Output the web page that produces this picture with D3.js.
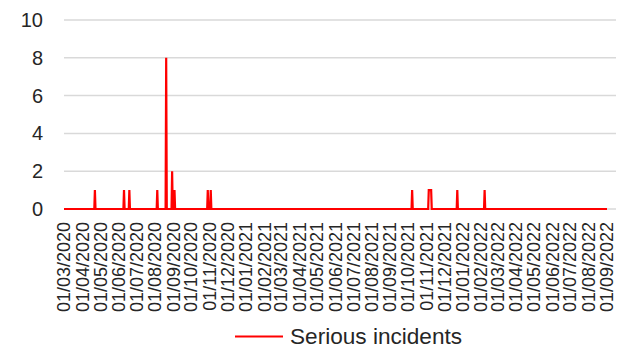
<!DOCTYPE html>
<html>
<head>
<meta charset="utf-8">
<script src="https://cdn.jsdelivr.net/npm/d3@7"></script>
<style>
  html, body { margin: 0; padding: 0; background: #fff; }
  svg { display: block; font-family: "Liberation Sans", Arial, sans-serif; }
</style>
</head>
<body>
<svg id="chart" width="617" height="349"></svg>
<script>
// ---- data ----
const startDate = "2020-03-01";
const endDate = "2022-09-01";
// days with at least one serious incident (all other days are 0)
const incidentDates = [
  "2020-04-22", "2020-06-10", "2020-06-19", "2020-08-05", "2020-08-20",
  "2020-08-30", "2020-09-03", "2020-10-29", "2020-11-03",
  "2021-10-08", "2021-11-05", "2021-11-06", "2021-11-07", "2021-11-08", "2021-11-09",
  "2021-12-23", "2022-02-07"
];
const incidentCounts = [
  1, 1, 1, 1, 8,
  2, 1, 1, 1,
  1, 1, 1, 1, 1, 1,
  1, 1
];
const yTicks = [0, 2, 4, 6, 8, 10];
const seriesName = "Serious incidents";

// ---- build daily series ----
const parse = d3.utcParse("%Y-%m-%d");
const countByDay = new Map(incidentDates.map((d, i) => [d, incidentCounts[i]]));
const days = d3.utcDay.range(parse(startDate), d3.utcDay.offset(parse(endDate), 1));
const fmtKey = d3.utcFormat("%Y-%m-%d");
const series = days.map(d => ({ date: d, value: countByDay.get(fmtKey(d)) || 0 }));
const monthTicks = d3.utcMonth.range(parse(startDate), d3.utcDay.offset(parse(endDate), 1));

// ---- layout ----
const svg = d3.select("#chart");
const x = d3.scaleUtc().domain([parse(startDate), parse(endDate)]).range([64, 607]);
const y = d3.scaleLinear().domain([0, 10]).range([209, 20]);

// gridlines
svg.append("g").selectAll("line").data(yTicks).join("line")
  .attr("x1", 64).attr("x2", 616)
  .attr("y1", d => y(d)).attr("y2", d => y(d))
  .attr("stroke", "#d9d9d9").attr("stroke-width", 1.5);

// y labels
const yAxis = d3.axisLeft(y).tickValues(yTicks).tickSize(0).tickPadding(0);
const gy = svg.append("g").attr("transform", "translate(43,0)").call(yAxis);
gy.select(".domain").remove();
gy.selectAll("text")
  .attr("font-family", "'Liberation Sans', Arial, sans-serif")
  .attr("font-size", 20).attr("fill", "#262626");

// x labels
const fmt = d3.utcFormat("%d/%m/%Y");
svg.append("g").selectAll("text").data(monthTicks).join("text")
  .attr("transform", d => `translate(${x(d)},222) rotate(-90)`)
  .attr("text-anchor", "end").attr("dy", "0.35em")
  .attr("font-size", 18).attr("fill", "#262626")
  .text(d => fmt(d));

// line
const line = d3.line().x(d => x(d.date)).y(d => y(d.value));
svg.append("path").datum(series)
  .attr("d", line).attr("fill", "none")
  .attr("stroke", "#ff0000").attr("stroke-width", 2.2)
  .attr("stroke-linejoin", "miter");

// legend
const lg = svg.append("g");
lg.append("line").attr("x1", 235).attr("x2", 283).attr("y1", 336.5).attr("y2", 336.5)
  .attr("stroke", "#ff0000").attr("stroke-width", 2.2);
lg.append("text").attr("x", 290).attr("y", 336.5).attr("dy", "0.35em")
  .attr("font-size", 22.6).attr("fill", "#262626").text(seriesName);
</script>
</body>
</html>
